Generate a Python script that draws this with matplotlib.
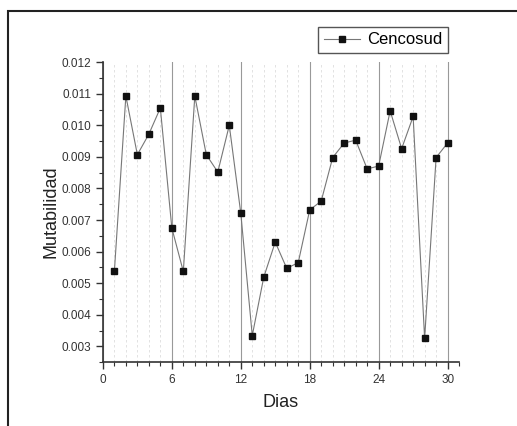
import numpy as np
import matplotlib.pyplot as plt
from matplotlib.patches import Rectangle
from matplotlib.ticker import MultipleLocator

plt.rcParams['font.family'] = ['Liberation Sans', 'DejaVu Sans']

# ====== DATA ======
dias = list(range(1, 31))
mutabilidad = [0.00537, 0.01093, 0.00907, 0.00972, 0.01055, 0.00675,
               0.00537, 0.01093, 0.00907, 0.00852, 0.01000, 0.00722,
               0.00334, 0.00519, 0.00630, 0.00547, 0.00565, 0.00732,
               0.00760, 0.00898, 0.00944, 0.00953, 0.00862, 0.00871,
               0.01046, 0.00926, 0.01028, 0.00325, 0.00898, 0.00944]
serie = "Cencosud"

fig = plt.figure(figsize=(5.17, 4.26), dpi=100)
ax = fig.add_axes([0.199, 0.150, 0.689, 0.704])

# outer frame (runs off the right/bottom edge like the scan)
fig.patches.append(Rectangle((8/517, -0.05), 1.2, 1 - 11/426 + 0.05,
                             transform=fig.transFigure, fill=False,
                             edgecolor='#222222', linewidth=1.5))

ax.plot(dias, mutabilidad, color='#777777', linewidth=0.8, marker='s',
        markersize=5, markerfacecolor='#111111', markeredgecolor='#111111',
        label=serie, zorder=3)

ax.set_xlim(0, 31)
ax.set_ylim(0.0025, 0.012)
ax.xaxis.set_major_locator(MultipleLocator(6))
ax.xaxis.set_minor_locator(MultipleLocator(1))
ax.yaxis.set_major_locator(MultipleLocator(0.001))
ax.yaxis.set_minor_locator(MultipleLocator(0.0005))
ax.yaxis.set_major_formatter(plt.FuncFormatter(lambda v, p: f"{v:.3f}"))

ax.grid(True, which='major', axis='x', color='#999999', linewidth=0.8)
ax.grid(True, which='minor', axis='x', color='#dddddd', linewidth=0.6,
        linestyle=(0, (3, 3)))
ax.set_axisbelow(True)

for s in ('top', 'right'):
    ax.spines[s].set_visible(False)
for s in ('left', 'bottom'):
    ax.spines[s].set_color('#333333')
    ax.spines[s].set_linewidth(1.2)

ax.tick_params(which='major', direction='out', length=5, width=1,
               colors='#333333', labelsize=8.5)
ax.tick_params(which='minor', direction='out', length=3, width=0.8,
               colors='#333333')

ax.set_xlabel("Dias", fontsize=13, color='#222222', labelpad=6)
ax.set_ylabel("Mutabilidad", fontsize=13, color='#222222', labelpad=1)

leg = ax.legend(loc='lower right', bbox_to_anchor=(0.969, 1.03),
                borderaxespad=0, fontsize=12, fancybox=False, framealpha=1,
                edgecolor='#555555', handlelength=2.2, borderpad=0.35,
                handletextpad=0.4)
leg.get_frame().set_linewidth(1.0)

fig.savefig("out.png", dpi=100)
